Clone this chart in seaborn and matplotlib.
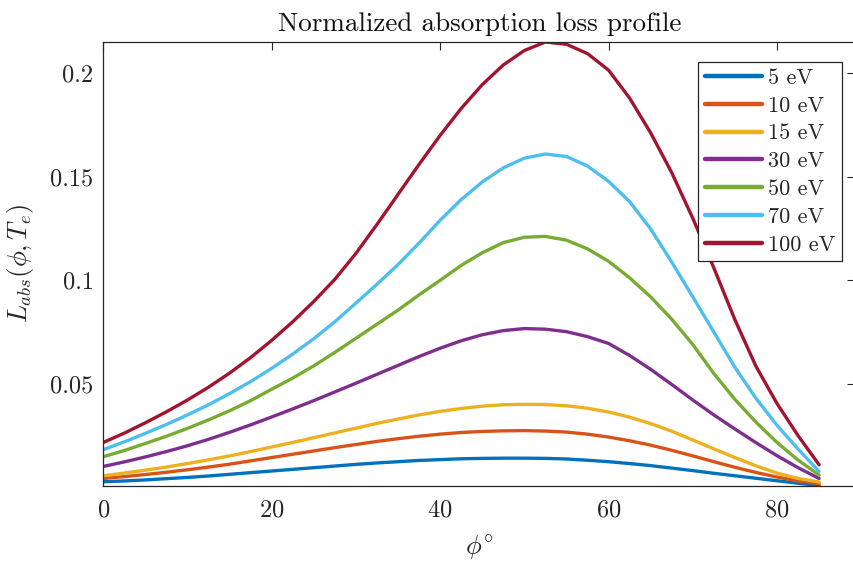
import numpy as np
import pandas as pd
import matplotlib
matplotlib.use("Agg")
import matplotlib.pyplot as plt
import seaborn as sns

# Incidence angle grid (degrees)
phi = [0, 2.5, 5, 7.5, 10, 12.5, 15, 17.5, 20, 22.5, 25, 27.5, 30, 32.5, 35, 37.5,
       40, 42.5, 45, 47.5, 50, 52.5, 55, 57.5, 60, 62.5, 65, 67.5, 70, 72.5, 75,
       77.5, 80, 82.5, 85]

# Normalized absorption loss per electron temperature
loss_5eV = [0.0027, 0.0031, 0.0036, 0.0042, 0.0048, 0.0055, 0.0063, 0.0071, 0.0079,
            0.0087, 0.0095, 0.0103, 0.0111, 0.0118, 0.0124, 0.0130, 0.0134, 0.0138,
            0.0140, 0.0141, 0.0141, 0.0140, 0.0137, 0.0131, 0.0124, 0.0115, 0.0105,
            0.0093, 0.0081, 0.0068, 0.0056, 0.0044, 0.0032, 0.0020, 0.0009]
loss_10eV = [0.0043, 0.0052, 0.0062, 0.0073, 0.0085, 0.0098, 0.0112, 0.0128, 0.0144,
             0.0160, 0.0176, 0.0192, 0.0207, 0.0222, 0.0235, 0.0247, 0.0257, 0.0265,
             0.0270, 0.0273, 0.0274, 0.0272, 0.0267, 0.0257, 0.0243, 0.0225, 0.0204,
             0.0179, 0.0152, 0.0124, 0.0097, 0.0072, 0.0050, 0.0031, 0.0018]
loss_15eV = [0.0056, 0.0069, 0.0083, 0.0098, 0.0115, 0.0133, 0.0152, 0.0173, 0.0195,
             0.0217, 0.0240, 0.0263, 0.0286, 0.0309, 0.0330, 0.0350, 0.0367, 0.0381,
             0.0392, 0.0399, 0.0401, 0.0400, 0.0394, 0.0382, 0.0364, 0.0339, 0.0308,
             0.0271, 0.0229, 0.0186, 0.0144, 0.0104, 0.0069, 0.0043, 0.0026]
loss_30eV = [0.0101, 0.0123, 0.0147, 0.0173, 0.0201, 0.0232, 0.0266, 0.0302, 0.0340,
             0.0379, 0.0419, 0.0461, 0.0503, 0.0546, 0.0589, 0.0632, 0.0672, 0.0708,
             0.0737, 0.0757, 0.0767, 0.0764, 0.0752, 0.0728, 0.0695, 0.0637, 0.0570,
             0.0497, 0.0422, 0.0350, 0.0282, 0.0216, 0.0153, 0.0095, 0.0043]
loss_50eV = [0.0148, 0.0178, 0.0212, 0.0247, 0.0285, 0.0326, 0.0370, 0.0419, 0.0474,
             0.0528, 0.0587, 0.0652, 0.0720, 0.0788, 0.0856, 0.0930, 0.1000, 0.1072,
             0.1133, 0.1182, 0.1208, 0.1212, 0.1194, 0.1152, 0.1092, 0.1012, 0.0920,
             0.0812, 0.0690, 0.0550, 0.0425, 0.0315, 0.0217, 0.0132, 0.0059]
loss_70eV = [0.0182, 0.0220, 0.0261, 0.0304, 0.0350, 0.0399, 0.0453, 0.0511, 0.0575,
             0.0644, 0.0718, 0.0800, 0.0890, 0.0981, 0.1076, 0.1180, 0.1290, 0.1390,
             0.1475, 0.1543, 0.1590, 0.1610, 0.1598, 0.1552, 0.1478, 0.1380, 0.1248,
             0.1088, 0.0920, 0.0750, 0.0580, 0.0430, 0.0300, 0.0185, 0.0077]
loss_100eV = [0.0217, 0.0262, 0.0312, 0.0365, 0.0422, 0.0484, 0.0552, 0.0627, 0.0710,
              0.0800, 0.0898, 0.1005, 0.1130, 0.1270, 0.1415, 0.1560, 0.1700, 0.1830,
              0.1945, 0.2040, 0.2110, 0.2151, 0.2140, 0.2095, 0.2015, 0.1880, 0.1712,
              0.1520, 0.1300, 0.1060, 0.0810, 0.0585, 0.0405, 0.0250, 0.0109]

labels = ["5 eV", "10 eV", "15 eV", "30 eV", "50 eV", "70 eV", "100 eV"]
series = [loss_5eV, loss_10eV, loss_15eV, loss_30eV, loss_50eV, loss_70eV, loss_100eV]
colors = ["#0072BD", "#D95319", "#EDB120", "#7E2F8E", "#77AC30", "#4DBEEE", "#A2142F"]

df = pd.concat(
    [pd.DataFrame({"phi": phi, "loss": s, "Te": lab}) for s, lab in zip(series, labels)],
    ignore_index=True,
)

sns.set_theme(style="white")
plt.rcParams["font.family"] = ["cmr10", "DejaVu Serif"]
plt.rcParams["mathtext.fontset"] = "cm"
plt.rcParams["axes.formatter.use_mathtext"] = True

fig = plt.figure(figsize=(8.54, 5.61), dpi=100)
ax = fig.add_axes([103.3 / 854, 75.5 / 561, 752 / 854, 443.5 / 561])

sns.lineplot(data=df, x="phi", y="loss", hue="Te", palette=colors,
             hue_order=labels, linewidth=2.4, ax=ax, legend=True)

ax.set_xlim(0, 89.3)
ymin = min(min(s) for s in series)
ymax = max(max(s) for s in series)
ax.set_ylim(ymin, ymax)
ax.set_xticks([0, 20, 40, 60, 80])
ax.set_yticks([0.05, 0.1, 0.15, 0.2])
ax.set_yticklabels(["0.05", "0.1", "0.15", "0.2"])

for side in ["left", "right", "top", "bottom"]:
    ax.spines[side].set_visible(True)
    ax.spines[side].set_color("#262626")
    ax.spines[side].set_linewidth(0.9)
ax.tick_params(axis="both", which="both", direction="in", length=6, width=0.8,
               color="#262626", labelsize=17.5, labelcolor="#262626",
               top=True, right=True)
ax.tick_params(axis="x", pad=10)
ax.tick_params(axis="y", pad=7)

ax.set_title("Normalized absorption loss profile", fontsize=19.5, pad=8, color="#111111")
ax.set_xlabel(r"$\phi^{\circ}$", fontsize=19, color="#262626", labelpad=8)
ax.set_ylabel(r"$L_{abs}(\phi, T_e)$", fontsize=19, color="#262626", labelpad=10)

leg = ax.legend(loc="upper right", bbox_to_anchor=(0.982, 0.9556), borderaxespad=0,
                fontsize=16, frameon=True, fancybox=False, framealpha=1,
                edgecolor="#262626", handlelength=2.6, handletextpad=0.25,
                labelspacing=0.37, borderpad=0.3)
leg.get_frame().set_linewidth(0.9)
for line in leg.get_lines():
    line.set_linewidth(3.2)

fig.savefig("out.png", dpi=100)
